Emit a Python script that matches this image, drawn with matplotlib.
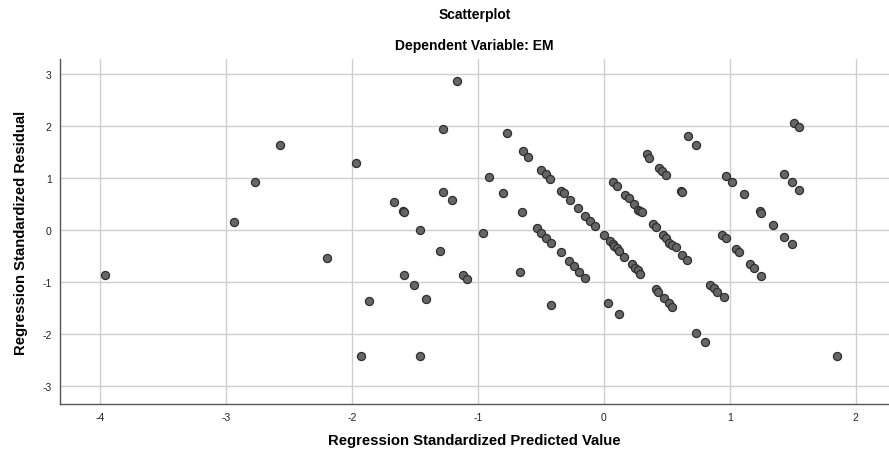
import matplotlib
matplotlib.use("Agg")
import matplotlib.pyplot as plt

plt.rcParams['font.family'] = ['Liberation Sans', 'DejaVu Sans']

pred = [-3.96, -2.94, -2.77, -2.57, -2.20, -1.97, -1.93, -1.87, -1.67, -1.60,
        -1.59, -1.59, -1.51, -1.46, -1.46, -1.41, -1.30, -1.28, -1.28, -1.21,
        -1.17, -1.12, -1.09, -0.96, -0.91, -0.80, -0.77, -0.67, -0.65, -0.64,
        -0.60, -0.53, -0.50, -0.50, -0.46, -0.46, -0.43, -0.42, -0.42, -0.34,
        -0.34, -0.32, -0.28, -0.27, -0.24, -0.21, -0.20, -0.15, -0.15, -0.11,
        -0.07, 0.00, 0.03, 0.05, 0.07, 0.07, 0.08, 0.10, 0.10, 0.12,
        0.12, 0.16, 0.17, 0.20, 0.22, 0.24, 0.25, 0.27, 0.27, 0.29,
        0.30, 0.29, 0.34, 0.36, 0.39, 0.41, 0.41, 0.43, 0.44, 0.46,
        0.47, 0.48, 0.49, 0.49, 0.52, 0.52, 0.54, 0.54, 0.57, 0.61,
        0.62, 0.62, 0.66, 0.67, 0.73, 0.73, 0.80, 0.84, 0.87, 0.90,
        0.95, 0.94, 0.97, 0.97, 1.02, 1.05, 1.07, 1.11, 1.16, 1.19,
        1.24, 1.25, 1.25, 1.34, 1.43, 1.43, 1.49, 1.49, 1.51, 1.55,
        1.55, 1.85]
resid = [-0.87, 0.16, 0.93, 1.64, -0.54, 1.29, -2.42, -1.37, 0.53, 0.36,
         0.34, -0.87, -1.06, 0.00, -2.42, -1.33, -0.40, 1.95, 0.74, 0.58,
         2.87, -0.87, -0.94, -0.06, 1.02, 0.72, 1.87, -0.80, 0.34, 1.53,
         1.41, 0.03, 1.15, -0.05, 1.08, -0.15, 0.99, -0.25, -1.44, 0.76,
         -0.43, 0.71, -0.60, 0.58, -0.70, 0.43, -0.80, 0.27, -0.93, 0.17,
         0.08, -0.09, -1.41, -0.21, 0.93, -0.27, -0.31, 0.85, -0.34, -0.40,
         -1.61, -0.52, 0.68, 0.61, -0.66, 0.51, -0.73, 0.39, -0.78, 0.36,
         0.35, -0.84, 1.46, 1.39, 0.11, 0.06, -1.13, -1.19, 1.19, 1.13,
         -0.10, -1.31, 1.06, -0.15, -0.25, -1.41, -0.29, -1.48, -0.33, 0.76,
         0.74, -0.48, -0.57, 1.82, 1.63, -1.98, -2.16, -1.06, -1.12, -1.20,
         -1.30, -0.09, -0.15, 1.04, 0.93, -0.37, -0.42, 0.69, -0.66, -0.73,
         0.36, 0.32, -0.88, 0.10, 1.07, -0.13, 0.93, -0.27, 2.07, 1.98,
         0.77, -2.42]

xticks = [-4, -3, -2, -1, 0, 1, 2]
yticks = [-3, -2, -1, 0, 1, 2, 3]

fig = plt.figure(figsize=(8.89, 4.56), dpi=100)
ax = fig.add_axes([0.0675, 0.112, 0.932, 0.756])

ax.scatter(pred, resid, s=34, facecolor='#666666', edgecolor='#2e2e2e',
           linewidths=0.9, zorder=3)

ax.set_xlim(-4.32, 2.26)
ax.set_ylim(-3.35, 3.29)
ax.set_xticks(xticks)
ax.set_yticks(yticks)
ax.set_xticklabels([str(t) for t in xticks])
ax.set_yticklabels([str(t) for t in yticks])
ax.tick_params(length=0, labelsize=7.5, colors='#222222', pad=6)
ax.grid(True, color='#cfcfcf', linewidth=1.0, zorder=0)
ax.set_axisbelow(True)
for side in ['top', 'right']:
    ax.spines[side].set_visible(False)
for side in ['left', 'bottom']:
    ax.spines[side].set_color('#555555')
    ax.spines[side].set_linewidth(1.0)

ax.set_xlabel('Regression Standardized Predicted Value', fontsize=10.7,
              fontweight='bold', labelpad=8)
ax.set_ylabel('Regression Standardized Residual', fontsize=10.7,
              fontweight='bold', labelpad=10)

fig.text(0.534, 0.967, 'Scatterplot', ha='center', va='center',
         fontsize=10, fontweight='bold')
fig.text(0.534, 0.899, 'Dependent Variable: EM', ha='center', va='center',
         fontsize=10, fontweight='bold')

fig.savefig('out.png', dpi=100)
